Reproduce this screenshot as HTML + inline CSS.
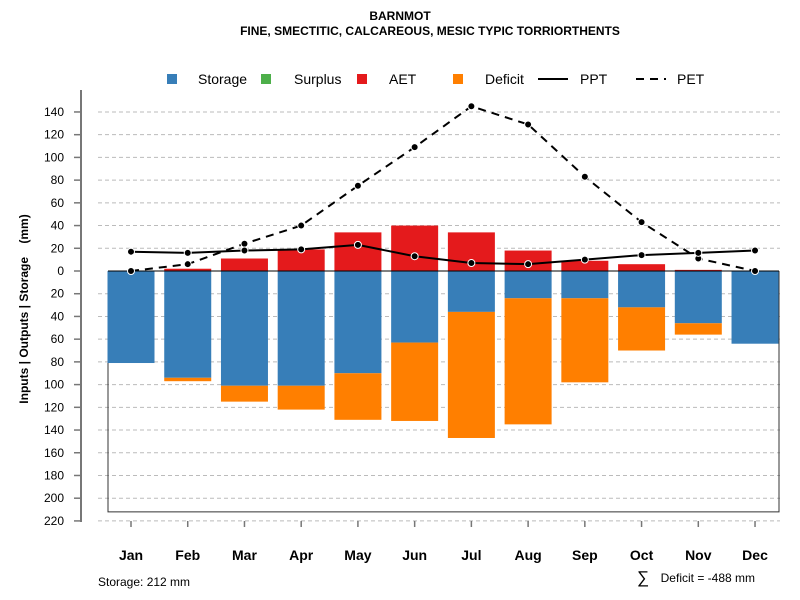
<!DOCTYPE html>
<html><head><meta charset="utf-8"><style>
body{margin:0;background:#fff}
svg{font-family:"Liberation Sans",Arial,sans-serif;display:block}
</style></head><body>
<svg id="chart" width="800" height="600" viewBox="0 0 800 600"></svg>
<script>
const months=["Jan","Feb","Mar","Apr","May","Jun","Jul","Aug","Sep","Oct","Nov","Dec"];
const storage=[81,94,101,101,90,63,36,24,24,32,46,64];
const deficit=[0,3,14,21,41,69,111,111,74,38,10,0];
const aet=[0,2,11,19,34,40,34,18,9,6,1,0];
const surplus=[0,0,0,0,0,0,0,0,0,0,0,0];
const ppt=[17,16,18,19,23,13,7,6,10,14,16,18];
const pet=[0,6,24,40,75,109,145,129,83,43,11,0];
const yTicks=[140,120,100,80,60,40,20,0,-20,-40,-60,-80,-100,-120,-140,-160,-180,-200,-220];
const storageCap=212;

const NS="http://www.w3.org/2000/svg";
const svg=document.getElementById('chart');
function el(t,a,txt){const e=document.createElementNS(NS,t);for(const k in a)e.setAttribute(k,a[k]);if(txt!==undefined)e.textContent=txt;svg.appendChild(e);return e;}
const y=v=>271-v*1.136;
const x=i=>131+i*56.73;
const bw=47;

let e;
e=el('text',{x:400,y:20,'text-anchor':'middle','font-size':12,'font-weight':'bold'},'BARNMOT');

e=el('text',{x:430,y:35,'text-anchor':'middle','font-size':12,'font-weight':'bold'},'FINE, SMECTITIC, CALCAREOUS, MESIC TYPIC TORRIORTHENTS');


yTicks.forEach(t=>{
  if(t!==0){e=el('line',{x1:98,x2:780,y1:y(t),y2:y(t),stroke:'#bbb','stroke-dasharray':'4,3','stroke-width':1});
  }
  e=el('line',{x1:74,x2:81,y1:y(t),y2:y(t),stroke:'#777','stroke-width':1.5});
  
  e=el('text',{x:64,y:y(t)+4,'text-anchor':'end','font-size':12},Math.abs(t));
  
});
e=el('line',{x1:81,x2:81,y1:90,y2:522,stroke:'#777','stroke-width':2});

e=el('text',{x:28,y:309,'text-anchor':'middle','font-size':12,'font-weight':'bold',transform:'rotate(-90 28 309)'},'Inputs | Outputs | Storage\u00a0\u00a0\u00a0\u00a0(mm)');


e=el('polyline',{points:`108,${y(0)} 108,${y(-storageCap)} 779,${y(-storageCap)} 779,${y(0)}`,fill:'none',stroke:'#333','stroke-width':1});


months.forEach((m,i)=>{
  const cx=x(i);
  if(storage[i]>0){e=el('rect',{x:cx-bw/2,y:y(0),width:bw,height:y(-storage[i])-y(0),fill:'#377EB8'});
  }
  if(deficit[i]>0){e=el('rect',{x:cx-bw/2,y:y(-storage[i]),width:bw,height:y(-storage[i]-deficit[i])-y(-storage[i]),fill:'#FF7F00'});
  }
  if(aet[i]>0){e=el('rect',{x:cx-bw/2,y:y(aet[i]),width:bw,height:y(0)-y(aet[i]),fill:'#E41A1C'});
  }
  if(surplus[i]>0){e=el('rect',{x:cx-bw/2,y:y(aet[i]+surplus[i]),width:bw,height:y(aet[i])-y(aet[i]+surplus[i]),fill:'#4DAF4A'});
  }
  e=el('line',{x1:cx,x2:cx,y1:521,y2:527,stroke:'#777','stroke-width':1.5});
  
  e=el('text',{x:cx,y:560,'text-anchor':'middle','font-size':14,'font-weight':'bold'},m);
  
});
e=el('line',{x1:108,x2:779,y1:y(0),y2:y(0),stroke:'#000','stroke-width':1});


function series(vals,dash,name){
  e=el('polyline',{points:vals.map((v,i)=>x(i)+','+y(v)).join(' '),fill:'none',stroke:'#000','stroke-width':2,'stroke-dasharray':dash});
  
  vals.forEach((v,i)=>{e=el('circle',{cx:x(i),cy:y(v),r:3.5,fill:'#000',stroke:'#fff','stroke-width':1});
  });
}
series(pet,'8,6','pet');
series(ppt,'none','ppt');

const lg=[['Storage','#377EB8',172,198],['Surplus','#4DAF4A',266,294],['AET','#E41A1C',362,389],['Deficit','#FF7F00',458,485]];
lg.forEach(l=>{
  e=el('rect',{x:l[2]-5,y:74,width:10,height:10,fill:l[1]});
  
  e=el('text',{x:l[3],y:84,'font-size':14},l[0]);
  
});
e=el('line',{x1:538,x2:568,y1:79,y2:79,stroke:'#000','stroke-width':2});

e=el('text',{x:580,y:84,'font-size':14},'PPT');

e=el('line',{x1:636,x2:666,y1:79,y2:79,stroke:'#000','stroke-width':2,'stroke-dasharray':'8,6'});

e=el('text',{x:677,y:84,'font-size':14},'PET');


e=el('text',{x:98,y:586,'font-size':12},'Storage: '+storageCap+' mm');

const totalDef=-488;
e=el('text',{x:637,y:583,'font-size':17},'\u2211');

e=el('text',{x:755,y:582,'text-anchor':'end','font-size':12},'Deficit = '+totalDef+' mm');

</script>
</body></html>
